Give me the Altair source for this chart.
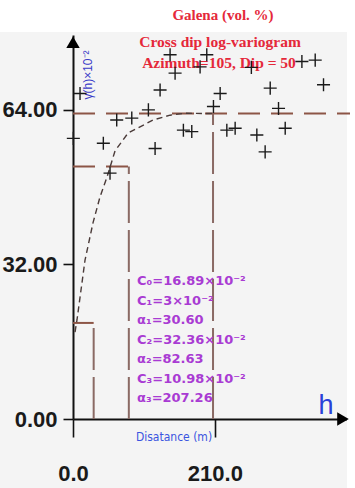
import altair as alt
import pandas as pd

# ---------------- data ----------------
# experimental cross-dip log-variogram points (lag distance h [m], gamma x 10^-2)
lag_h = [0.5, 10.4, 44.9, 54.8, 64.7, 87.0, 111.6, 121.5, 128.9, 143.7, 151.1,
         163.4, 175.8, 188.1, 198.0, 207.9, 217.8, 227.7, 240.0, 264.0, 272.1,
         284.4, 291.9, 304.2, 314.1, 338.8, 358.5, 370.8]
gamma = [58.1, 67.4, 57.1, 50.9, 61.9, 62.3, 64.0, 56.0, 68.1, 75.4, 71.6,
         59.8, 59.5, 72.9, 75.4, 64.7, 67.4, 59.8, 60.2, 72.8, 58.8,
         55.3, 68.5, 64.3, 60.2, 74.0, 74.3, 69.2]

# fitted nested model curve
model_h = [3.0, 5.9, 17.8, 29.6, 40.0, 50.4, 62.2, 81.5, 118.5, 143.7, 166.0, 207.3]
model_g = [18.0, 20.5, 32.9, 40.6, 46.0, 50.1, 55.5, 59.2, 61.9, 62.9, 63.3, 63.23]

# model parameters
sills = [16.89, 3.0, 32.36, 10.98]      # C0, C1, C2, C3  (x10^-2)
ranges = [30.60, 82.63, 207.26]          # a1, a2, a3

x_ticks = [0, 210]
y_ticks = [0, 32, 64]
x_max = 410
y_max = 79.5

title_lines = ["Galena (vol. %)", "Cross dip log-variogram", "Azimuth=105, Dip = 50"]

# ---------------- derived tables ----------------
pts = pd.DataFrame({"h": lag_h, "g": gamma})
model = pd.DataFrame({"h": model_h, "g": model_g})

lvl1 = sills[0] + sills[1]
lvl2 = lvl1 + sills[2]
lvl3 = lvl2 + sills[3]
hsegs = pd.DataFrame({"h": [0, 0, 0], "h2": [ranges[0], ranges[1], x_max],
                      "g": [lvl1, lvl2, lvl3]})
vsegs = pd.DataFrame({"h": ranges, "g": [0, 0, 0], "g2": [lvl1, lvl2, lvl3]})

param_text = "\n".join([
    f"C₀={sills[0]:.2f}×10⁻²",
    f"C₁={sills[1]:g}×10⁻²",
    f"α₁={ranges[0]:.2f}",
    f"C₂={sills[2]:.2f}×10⁻²",
    f"α₂={ranges[1]:.2f}",
    f"C₃={sills[3]:.2f}×10⁻²",
    f"α₃={ranges[2]:.2f}",
])

one = pd.DataFrame({"t": [param_text]})

# ---------------- scales / axes ----------------
LAB = "Liberation Sans, Arial, sans-serif"
NARROW = "Liberation Sans Narrow, DejaVu Sans Condensed, Liberation Sans, sans-serif"
xs = alt.Scale(domain=[0, x_max], nice=False, zero=False)
ys = alt.Scale(domain=[0, y_max], nice=False, zero=False)

x_axis = alt.Axis(values=x_ticks, format=".1f", title=None, grid=False,
                  domainColor="#111111", domainWidth=2, tickColor="#111111",
                  tickWidth=1.6, tickSize=18, labelPadding=26, labelFont=LAB,
                  labelFontSize=22, labelFontWeight="bold", labelColor="#1a1a1a",
                  labelFlush=False, labelOverlap=False)
y_axis = alt.Axis(values=y_ticks, format=".2f", title=None, grid=False,
                  domainColor="#111111", domainWidth=2, tickColor="#111111",
                  tickWidth=1.6, tickSize=10, labelPadding=6, labelFont=LAB,
                  labelFontSize=22, labelFontWeight="bold", labelColor="#1a1a1a",
                  labelFlush=False, labelOverlap=False)

X = alt.X("h:Q", scale=xs, axis=x_axis)
Y = alt.Y("g:Q", scale=ys, axis=y_axis)

# ---------------- layers ----------------
white = pd.DataFrame({"a": [1]})
top_strip = alt.Chart(white).mark_rect(color="white").encode(
    x=alt.value(-73), x2=alt.value(282), y=alt.value(-35), y2=alt.value(-3))
right_strip = alt.Chart(white).mark_rect(color="white").encode(
    x=alt.value(274), x2=alt.value(282), y=alt.value(-35), y2=alt.value(453))

hlines = alt.Chart(hsegs).mark_rule(color="#8c5546", strokeWidth=2,
                                    strokeDash=[22, 11]).encode(
    x=X, x2="h2:Q", y=Y)
vlines = alt.Chart(vsegs).mark_rule(color="#8a6a64", strokeWidth=2,
                                    strokeDash=[42, 7]).encode(
    x=X, y=Y, y2="g2:Q")
curve = alt.Chart(model).mark_line(color="#4a3a38", strokeWidth=1.4,
                                   strokeDash=[6, 4]).encode(x=X, y=Y)

def txt(s, x, y, size, color, font, weight="normal", align="center", angle=0):
    kw = dict(text=s, fontSize=size, color=color, font=font, fontWeight=weight,
              align=align, baseline="middle")
    if angle:
        kw["angle"] = angle
    return alt.Chart(white).mark_text(**kw).encode(x=alt.value(x), y=alt.value(y))

SERIF = "Liberation Serif, Times New Roman, serif"
RED = "#e5283a"
titles = [
    txt(title_lines[0], 150, -20, 15, RED, SERIF, "bold"),
    txt(title_lines[1], 147, 7, 15.5, RED, SERIF, "bold"),
    txt(title_lines[2], 146, 28, 15.5, RED, SERIF, "bold"),
]
ylab = txt("γ(h)×10⁻²", 15, 40, 12, "#3a3ac8", "Liberation Sans", angle=270)
hlab = txt("h", 253, 371, 27, "#2a40d8", "Liberation Sans")
dlab = txt("Disatance (m)", 101, 402, 12, "#3a55e0", NARROW)

params = alt.Chart(one).mark_text(
    align="left", baseline="middle", fontSize=13, fontWeight="bold",
    font="DejaVu Sans, sans-serif", color="#a93bd3",
    lineBreak="\n", lineHeight=19.5).encode(
    x=alt.value(64), y=alt.value(246), text="t:N")

points = alt.Chart(pts).mark_point(
    shape="M-1,0L1,0M0,-1L0,1", filled=False, color="#1a1a1a",
    strokeWidth=1.4, size=170, opacity=1).encode(x=X, y=Y)

arrows = pd.DataFrame({"h": [0, 399.6], "g": [78.0, 0], "s": ["up", "right"]})
arrow_up = alt.Chart(arrows[arrows.s == "up"]).mark_point(
    shape="triangle-up", filled=True, color="#000000", size=180, opacity=1).encode(x=X, y=Y)
arrow_rt = alt.Chart(arrows[arrows.s == "right"]).mark_point(
    shape="triangle-right", filled=True, color="#000000", size=180, opacity=1).encode(x=X, y=Y)

chart = alt.layer(
    top_strip, right_strip, hlines, vlines, curve, *titles, ylab, hlab, dlab,
    params, points, arrow_up, arrow_rt
).properties(
    width=277, height=384,
    padding={"left": 73, "top": 35, "right": 5, "bottom": 69},
    autosize=alt.AutoSizeParams(type="none"),
    background="#f4f4f4",
).configure_view(stroke=None)

chart.save("out.html", embed_options={"renderer": "svg", "actions": False})
